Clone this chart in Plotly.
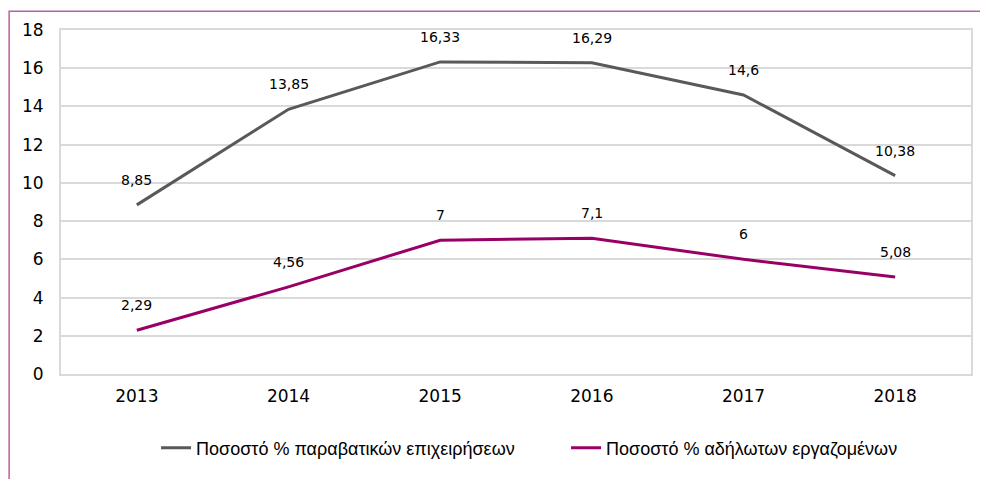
import plotly.graph_objects as go

years = ["2013", "2014", "2015", "2016", "2017", "2018"]
violating_businesses = [8.85, 13.85, 16.33, 16.29, 14.6, 10.38]
undeclared_workers = [2.29, 4.56, 7.0, 7.1, 6.0, 5.08]
name_a = "Ποσοστό % παραβατικών επιχειρήσεων"
name_b = "Ποσοστό % αδήλωτων εργαζομένων"
col_a = "#595959"
col_b = "#990066"

def fmt(v):
    s = ("%.2f" % v).rstrip("0").rstrip(".")
    return s.replace(".", ",")

fig = go.Figure()
fig.add_trace(go.Scatter(x=years, y=violating_businesses, mode="lines", name=name_a,
                         line=dict(color=col_a, width=3)))
fig.add_trace(go.Scatter(x=years, y=undeclared_workers, mode="lines", name=name_b,
                         line=dict(color=col_b, width=3)))

for ys in (violating_businesses, undeclared_workers):
    for i, y in enumerate(ys):
        fig.add_annotation(x=i, y=y, text=fmt(y), showarrow=False, yshift=25,
                           font=dict(family="DejaVu Sans", size=14, color="#000000"))

# outer frame of the chart
fig.add_shape(type="rect", xref="paper", yref="paper", x0=-0.0570, x1=1.0143,
              y0=-0.33, y1=1.0546, line=dict(color="#b8609f", width=1.5))

fig.update_layout(
    width=980, height=471,
    margin=dict(l=53, r=15, t=20, b=103),
    paper_bgcolor="white", plot_bgcolor="white",
    showlegend=True,
    legend=dict(orientation="h", x=0.555, xanchor="center", y=-0.215, yanchor="middle",
                font=dict(family="Liberation Sans", size=18, color="#000000"),
                entrywidth=365, entrywidthmode="pixels",
                tracegroupgap=0),
    xaxis=dict(type="category", range=[-0.5, 5.5], showgrid=False,
               showline=True, mirror=True, linecolor="#d9d9d9", linewidth=2,
               ticks="", ticklabelstandoff=6,
               tickfont=dict(family="DejaVu Sans", size=17, color="#000000")),
    yaxis=dict(range=[0, 18], dtick=2, showgrid=True, gridcolor="#d9d9d9", gridwidth=1.5,
               showline=True, mirror=True, linecolor="#d9d9d9", linewidth=2,
               zeroline=False, ticks="", ticklabelstandoff=12,
               tickfont=dict(family="DejaVu Sans", size=17, color="#000000")),
)

fig.write_html("out.html")
